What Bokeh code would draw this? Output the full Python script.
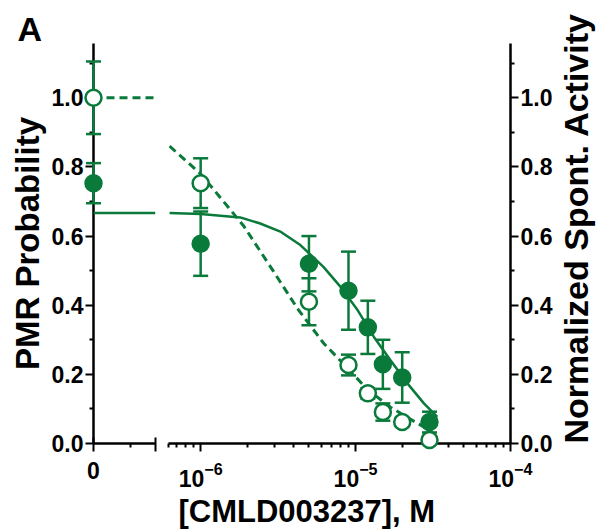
import math
from bokeh.plotting import figure
from bokeh.layouts import row
from bokeh.models import (ColumnDataSource, Range1d, FixedTicker, NumeralTickFormatter,
                          LogTickFormatter, Span, Title)
from bokeh.embed import file_html
from bokeh.resources import INLINE

GREEN = "#0a7a3b"
FONT = "Liberation Sans"

# ---------------- data ----------------
# zero-concentration segment
zero_conc = [0.0]
pmr_zero = [0.753]
pmr_zero_err = [0.058]
spont_zero = [1.0]
spont_zero_err = [0.105]

# log segment
conc = [1e-6, 5e-6, 9e-6, 1.2e-5, 1.5e-5, 2e-5, 3e-5]
pmr = [0.578, 0.52, 0.442, 0.336, 0.229, 0.191, 0.062]
pmr_err = [0.093, 0.08, 0.113, 0.077, 0.071, 0.073, 0.03]
spont = [0.753, 0.41, 0.227, 0.145, 0.091, 0.062, 0.010]
spont_err = [0.072, 0.068, 0.03, 0.015, 0.025, 0.012, 0.01]

# fitted curves
pmr_fit_top = 0.667
spont_fit_top = 1.0
pmr_fit_x = [6.3e-7, 1e-6, 1.8e-6, 2.4e-6, 3.3e-6, 4.4e-6, 6.2e-6, 8e-6,
             1.03e-5, 1.31e-5, 1.68e-5, 2.16e-5, 2.76e-5, 3.37e-5]
pmr_fit_y = [0.667, 0.664, 0.654, 0.637, 0.612, 0.574, 0.511, 0.453,
             0.386, 0.309, 0.241, 0.174, 0.116, 0.077]
spont_fit_x = [6.3e-7, 1e-6, 1.89e-6, 2.96e-6, 4.22e-6, 6.22e-6, 8.37e-6,
               1.2e-5, 1.68e-5, 2.51e-5, 3.05e-5]
spont_fit_y = [0.86, 0.78, 0.63, 0.497, 0.39, 0.29, 0.23, 0.155, 0.105, 0.058, 0.038]

# ticks
y_ticks = [0.0, 0.2, 0.4, 0.6, 0.8, 1.0]
y_minor = [0.1, 0.3, 0.5, 0.7, 0.9, 1.1]
x_start = 6.2e-7
x_major = [1e-6, 1e-5, 1e-4]
x_minor = [x_start] + [m * 10.0 ** e for e in (-7, -6, -5) for m in range(2, 10)]

panel_label = "A"
y_label_left = "PMR Probability"
y_label_right = "Normalized Spont. Activity"
x_label = "[CMLD003237], M"


def src(x, y, err):
    return ColumnDataSource(dict(x=x, y=y,
                                 lo=[a - b for a, b in zip(y, err)],
                                 hi=[a + b for a, b in zip(y, err)]))


def style_axis(ax):
    ax.axis_line_width = 2.5
    ax.axis_line_color = "black"
    ax.major_tick_line_width = 2
    ax.minor_tick_line_width = 2
    ax.major_tick_out = 8
    ax.major_tick_in = 0
    ax.minor_tick_out = 4
    ax.minor_tick_in = 0
    ax.major_label_text_font = FONT
    ax.major_label_text_font_size = "23px"
    ax.major_label_text_font_style = "bold"
    ax.major_label_text_color = "black"
    ax.major_label_standoff = 2
    ax.axis_label_text_font = FONT
    ax.axis_label_text_font_style = "bold"
    ax.axis_label_text_color = "black"
    ax.axis_label_standoff = 3


def draw_points(p, s_filled, s_open):
    for s, fill in ((s_filled, GREEN), (s_open, "white")):
        p.segment(x0="x", y0="lo", x1="x", y1="hi", source=s, line_color=GREEN,
                  line_width=2.5, level="overlay")
        p.scatter(x="x", y="hi", source=s, marker="dash", size=15, line_color=GREEN,
                  line_width=2.5, level="overlay")
        p.scatter(x="x", y="lo", source=s, marker="dash", size=15, line_color=GREEN,
                  line_width=2.5, level="overlay")
        p.scatter(x="x", y="y", source=s, marker="circle", size=16, fill_color=fill,
                  line_color=GREEN, line_width=2.5, level="overlay")


yr = Range1d(0, 1.157)

# ---------------- left (zero) segment ----------------
left = figure(frame_width=62, frame_height=400, x_range=Range1d(0, 1), y_range=yr,
              output_backend="svg", toolbar_location=None,
              min_border_left=93, min_border_right=5, min_border_top=43, min_border_bottom=80)
left.title = Title(text=panel_label, align="left", offset=-76, text_font=FONT,
                   text_font_size="34px", text_font_style="bold", text_color="black",
                   standoff=-8)
left.grid.visible = False
left.outline_line_color = None
for ax in (left.xaxis[0], left.yaxis[0]):
    style_axis(ax)
left.xaxis[0].ticker = FixedTicker(ticks=[0, 1], minor_ticks=[0.6])
left.xaxis[0].major_label_overrides = {0: "0", 1: ""}
left.xaxis[0].major_tick_in = 6
left.xaxis[0].major_label_standoff = 10
left.yaxis[0].ticker = FixedTicker(ticks=y_ticks, minor_ticks=y_minor)
left.yaxis[0].formatter = NumeralTickFormatter(format="0.0")
left.yaxis[0].axis_label = y_label_left
left.yaxis[0].axis_label_text_font_size = "33px"

left.add_layout(Span(location=pmr_fit_top, dimension="width", line_color=GREEN, line_width=2.5))
left.add_layout(Span(location=spont_fit_top, dimension="width", line_color=GREEN,
                     line_width=3, line_dash="8 5"))
draw_points(left, src(zero_conc, pmr_zero, pmr_zero_err), src(zero_conc, spont_zero, spont_zero_err))

# ---------------- right (log) segment ----------------
right = figure(x_axis_type="log", x_range=Range1d(x_start, 1e-4), y_range=yr,
               y_axis_location="right", frame_width=342, frame_height=400,
               output_backend="svg", toolbar_location=None,
               min_border_left=8, min_border_right=82, min_border_top=43, min_border_bottom=80)
right.grid.visible = False
right.outline_line_color = None
for ax in (right.xaxis[0], right.yaxis[0]):
    style_axis(ax)
right.xaxis[0].ticker = FixedTicker(ticks=x_major, minor_ticks=x_minor)
right.xaxis[0].formatter = LogTickFormatter()
right.xaxis[0].major_label_standoff = 10
right.yaxis[0].ticker = FixedTicker(ticks=y_ticks, minor_ticks=y_minor)
right.yaxis[0].formatter = NumeralTickFormatter(format="0.0")
right.yaxis[0].axis_label = y_label_right
right.yaxis[0].axis_label_text_font_size = "34px"
right.yaxis[0].axis_label_standoff = 21
try:
    right.yaxis[0].axis_label_orientation = math.pi / 2
except Exception:
    pass
for v in ("start", "left"):
    try:
        right.yaxis[0].axis_label_align = v
        break
    except Exception:
        pass

right.line(pmr_fit_x, pmr_fit_y, line_color=GREEN, line_width=2.5)
right.line(spont_fit_x, spont_fit_y, line_color=GREEN, line_width=3, line_dash="8 5")
draw_points(right, src(conc, pmr, pmr_err), src(conc, spont, spont_err))
right.add_layout(Title(text=x_label, align="left", offset=10, text_font=FONT,
                       text_font_size="31px", text_font_style="bold", text_color="black",
                       standoff=4), "below")

layout = row(left, right)
open("out.html", "w").write(file_html(layout, INLINE))
